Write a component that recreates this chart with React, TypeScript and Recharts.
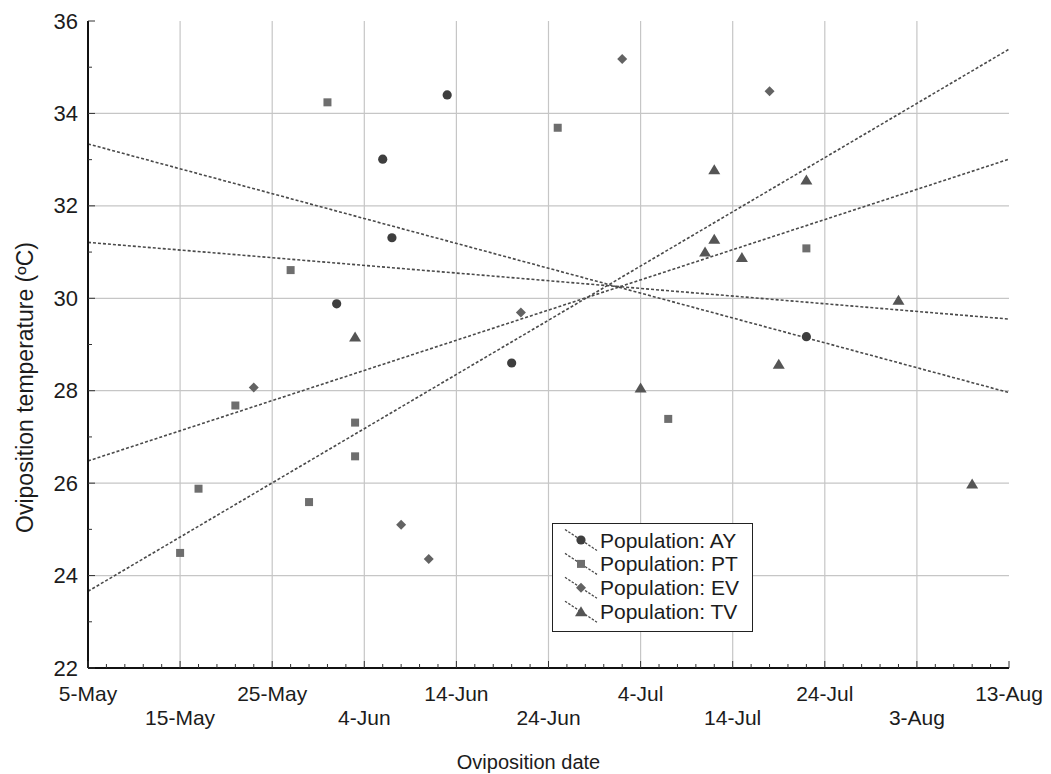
import React from 'react';
import { ComposedChart, Scatter, Line, XAxis, YAxis, CartesianGrid, Legend } from 'recharts';

// x values are days after 5-May
const dateLabels = ['5-May', '15-May', '25-May', '4-Jun', '14-Jun', '24-Jun', '4-Jul', '14-Jul', '24-Jul', '3-Aug', '13-Aug'];
const xTicks = [0, 2, 4, 6, 8, 10, 12, 14, 16, 18, 20, 22, 24, 26, 28, 30, 32, 34, 36, 38, 40, 42, 44, 46, 48, 50,
  52, 54, 56, 58, 60, 62, 64, 66, 68, 70, 72, 74, 76, 78, 80, 82, 84, 86, 88, 90, 92, 94, 96, 98, 100];
const yTicks = [22, 23, 24, 25, 26, 27, 28, 29, 30, 31, 32, 33, 34, 35, 36];
const gridXValues = [10, 20, 30, 40, 50, 60, 70, 80, 90];
const gridYValues = [24, 26, 28, 30, 32, 34];

const ayPoints = [
  { x: 27, y: 29.88 }, { x: 32, y: 33.01 }, { x: 33, y: 31.31 }, { x: 39, y: 34.4 }, { x: 46, y: 28.6 }, { x: 78, y: 29.17 },
];
const ptPoints = [
  { x: 10, y: 24.49 }, { x: 12, y: 25.88 }, { x: 16, y: 27.68 }, { x: 22, y: 30.61 }, { x: 24, y: 25.59 }, { x: 26, y: 34.24 },
  { x: 29, y: 27.31 }, { x: 29, y: 26.58 }, { x: 51, y: 33.69 }, { x: 63, y: 27.39 }, { x: 78, y: 31.08 },
];
const evPoints = [
  { x: 18, y: 28.07 }, { x: 34, y: 25.1 }, { x: 37, y: 24.36 }, { x: 47, y: 29.69 }, { x: 58, y: 35.18 }, { x: 74, y: 34.48 },
];
const tvPoints = [
  { x: 29, y: 29.16 }, { x: 60, y: 28.06 }, { x: 67, y: 31.0 }, { x: 68, y: 31.28 }, { x: 68, y: 32.78 }, { x: 71, y: 30.88 },
  { x: 75, y: 28.57 }, { x: 78, y: 32.56 }, { x: 88, y: 29.96 }, { x: 96, y: 25.98 },
];

const ayFit = [{ x: 0, y: 33.34 }, { x: 100, y: 27.96 }];
const tvFit = [{ x: 0, y: 31.21 }, { x: 100, y: 29.55 }];
const ptFit = [{ x: 0, y: 26.48 }, { x: 100, y: 33.01 }];
const evFit = [{ x: 0, y: 23.66 }, { x: 100, y: 35.39 }];

const seriesNames = ['Population: AY', 'Population: PT', 'Population: EV', 'Population: TV'];

const FONT = '"Liberation Sans", Arial, sans-serif';
const TEXT = '#1c1c1c';
const LINE_COLOR = '#4a4a4a';

const CircleMark = ({ cx, cy }: any) => <circle cx={cx} cy={cy} r={4.6} fill="#3e3e3e" />;
const SquareMark = ({ cx, cy }: any) => <rect x={cx - 4} y={cy - 4} width={8} height={8} fill="#6e6e6e" />;
const DiamondMark = ({ cx, cy }: any) => (
  <polygon points={`${cx},${cy - 5} ${cx + 5},${cy} ${cx},${cy + 5} ${cx - 5},${cy}`} fill="#636363" />
);
const TriangleMark = ({ cx, cy }: any) => (
  <polygon points={`${cx},${cy - 5.5} ${cx + 6},${cy + 4.5} ${cx - 6},${cy + 4.5}`} fill="#555555" />
);
const marks = [CircleMark, SquareMark, DiamondMark, TriangleMark];

const XTick = (props: any) => {
  const { x, y, payload } = props;
  const v = payload.value;
  const major = v % 10 === 0;
  const idx = Math.round(v / 10);
  return (
    <g>
      <line x1={x} x2={x} y1={y} y2={y - (major ? 7 : 4)} stroke="#333" strokeWidth={1} />
      {major && (
        <text x={x} y={y + (idx % 2 === 0 ? 25 : 49)} textAnchor="middle" dominantBaseline="central"
          fontFamily={FONT} fontSize={21} fill={TEXT}>
          {dateLabels[idx]}
        </text>
      )}
    </g>
  );
};

const YTick = (props: any) => {
  const { x, y, payload } = props;
  const v = payload.value;
  const major = v % 2 === 0;
  return (
    <g>
      <line x1={x} x2={x + (major ? 7 : 4)} y1={y} y2={y} stroke="#333" strokeWidth={1} />
      {major && (
        <text x={x - 10} y={y} textAnchor="end" dominantBaseline="central" fontFamily={FONT} fontSize={22} fill={TEXT}>
          {v}
        </text>
      )}
    </g>
  );
};

const LegendContent = () => (
  <div style={{ width: 201, height: 109, border: '1.5px solid #222', background: '#fff', boxSizing: 'border-box' }}>
    <svg width={198} height={106} style={{ display: 'block' }}>
      {seriesNames.map((name, i) => {
        const cy = 16 + i * 23.9;
        const M = marks[i];
        return (
          <g key={name}>
            <line x1={12} y1={cy - 10.5} x2={44} y2={cy + 10.5} stroke={LINE_COLOR} strokeWidth={1.3} strokeDasharray="2.5 1.5" />
            <M cx={28} cy={cy} />
            <text x={47} y={cy} dominantBaseline="central" fontFamily={FONT} fontSize={21} fill={TEXT}>{name}</text>
          </g>
        );
      })}
    </svg>
  </div>
);

const fitLine = (data: any[], key: string) => (
  <Line key={key} data={data} dataKey="y" type="linear" stroke={LINE_COLOR} strokeWidth={1.6}
    strokeDasharray="3 2" dot={false} activeDot={false} isAnimationActive={false} legendType="none" />
);

export default function App() {
  return (
    <div style={{ position: 'absolute', left: 0, top: 0, width: 1051, height: 774, background: '#fff' }}>
      <ComposedChart width={1051} height={774} margin={{ top: 21, right: 42, bottom: 0, left: 0 }}>
        <CartesianGrid stroke="#c6c6c6" strokeWidth={1.2} verticalValues={gridXValues} horizontalValues={gridYValues} />
        <XAxis type="number" dataKey="x" domain={[0, 100]} ticks={xTicks} interval={0} allowDataOverflow
          height={106} tickSize={0} tickMargin={0} tickLine={false} tick={<XTick />}
          axisLine={{ stroke: '#111', strokeWidth: 2 }}
          label={(p: any) => {
            const vb = p.viewBox;
            return (
              <text x={vb.x + vb.width / 2 - 20} y={vb.y + 94} textAnchor="middle" dominantBaseline="central"
                fontFamily={FONT} fontSize={20} fill={TEXT}>Oviposition date</text>
            );
          }} />
        <YAxis type="number" dataKey="y" domain={[22, 36]} ticks={yTicks} interval={0} allowDataOverflow
          width={88} tickSize={0} tickMargin={0} tickLine={false} tick={<YTick />}
          axisLine={{ stroke: '#111', strokeWidth: 2 }}
          label={(p: any) => {
            const vb = p.viewBox;
            const cx = 25;
            const cy = vb.y + vb.height / 2 + 43;
            return (
              <text x={cx} y={cy} transform={`rotate(-90, ${cx}, ${cy})`} textAnchor="middle" dominantBaseline="central"
                fontFamily={FONT} fontSize={23} fill={TEXT}>Oviposition temperature (ºC)</text>
            );
          }} />
        {fitLine(ayFit, 'ayFit')}
        {fitLine(ptFit, 'ptFit')}
        {fitLine(evFit, 'evFit')}
        {fitLine(tvFit, 'tvFit')}
        <Scatter name={seriesNames[0]} data={ayPoints} dataKey="y" shape={<CircleMark />} isAnimationActive={false} />
        <Scatter name={seriesNames[1]} data={ptPoints} dataKey="y" shape={<SquareMark />} isAnimationActive={false} />
        <Scatter name={seriesNames[2]} data={evPoints} dataKey="y" shape={<DiamondMark />} isAnimationActive={false} />
        <Scatter name={seriesNames[3]} data={tvPoints} dataKey="y" shape={<TriangleMark />} isAnimationActive={false} />
        <Legend layout="horizontal" verticalAlign="middle" align="center" content={<LegendContent />}
          wrapperStyle={{ position: 'absolute', left: 552, top: 523, width: 201, height: 109 }} />
      </ComposedChart>
    </div>
  );
}
